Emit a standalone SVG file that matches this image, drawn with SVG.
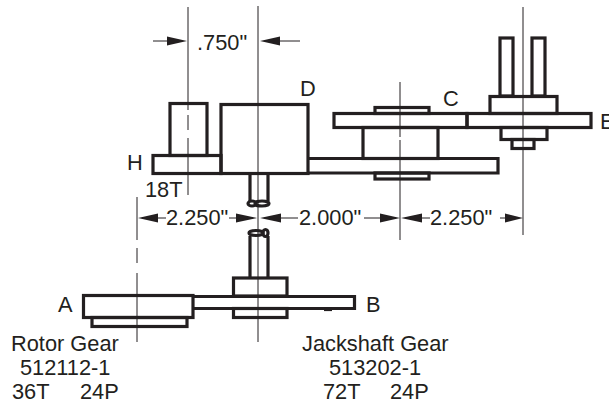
<svg xmlns="http://www.w3.org/2000/svg" width="609" height="405" viewBox="0 0 609 405">
<style>
.p{fill:none;stroke:#231f20;stroke-width:3.200}
.c{fill:none;stroke:#231f20;stroke-width:1}
.a{fill:#231f20;stroke:none}
text{font-family:"Liberation Sans",Arial,sans-serif;font-size:21.800px;fill:#231f20}
</style>
<rect width="609" height="405" fill="#fff"/>
<g id="centerlines">
<path class="c" d="M188 7V110M188 115V130M188 138V195"/>
<path class="c" d="M258 6V342"/>
<path class="c" d="M400 82V137M400 140V240"/>
<path class="c" d="M523 7V235"/>
<path class="c" d="M137 197V240M137 248V263M137 273V342"/>
</g>
<g id="upper-left">
<rect class="p" x="170" y="103.500" width="37" height="52"/>
<rect class="p" x="153" y="155.500" width="68" height="18"/>
<rect class="p" x="221" y="104.500" width="87" height="69"/>
<path class="p" d="M250 173V201M268 173V201"/>
<ellipse class="p" cx="252" cy="203.500" rx="4" ry="2.500"/>
<ellipse class="p" cx="262" cy="203.500" rx="7" ry="2.500"/>
</g>
<g id="middle">
<path class="p" d="M308 158.500H498V173H308"/>
<rect class="p" x="363" y="127.500" width="75" height="31"/>
<rect class="p" x="334" y="113.500" width="133" height="14"/>
<rect class="p" x="375" y="107.500" width="54" height="6"/>
<rect class="p" x="375" y="173" width="54" height="6"/>
</g>
<g id="right">
<rect class="p" x="467" y="113.500" width="124" height="14"/>
<rect class="p" x="500" y="38" width="13" height="58"/>
<rect class="p" x="532" y="38" width="13" height="58"/>
<rect class="p" x="490" y="96.500" width="67" height="17"/>
<rect class="p" x="501" y="127.500" width="46" height="12"/>
<rect class="p" x="512" y="139.500" width="22" height="9"/>
</g>
<g id="lower">
<rect class="p" x="83.500" y="295.500" width="109.500" height="22"/>
<rect class="p" x="92" y="317.500" width="95" height="9"/>
<path class="p" d="M193 296.500H354.500V308.500H193"/>
<rect class="p" x="233.500" y="278" width="53.500" height="18"/>
<rect class="p" x="233.500" y="308.500" width="53.500" height="9"/>
<path class="p" d="M250 278V236M268 278V236"/>
<ellipse class="p" cx="256" cy="233" rx="7" ry="2.500"/>
<ellipse class="p" cx="265.500" cy="233" rx="2.500" ry="3.500"/>
<path class="p" d="M324 309.500H332"/>
</g>
<g id="connectors">
<path class="c" d="M153 41H170M280 41H300M158 218H166M229 218H240M278 218H298M364 218H384M416 218H430M500 218H508"/>
<path class="a" d="M167 36.500L187 41L167 45.500ZM280 36.500L260 41L280 45.500Z"/>
<path class="a" d="M158 213.500L138 218L158 222.500ZM236 213.500L257 218L236 222.500ZM281 213.500L260 218L281 222.500ZM380 213.500L400 218L380 222.500ZM422 213.500L401 218L422 222.500ZM505 213.500L523 218L505 222.500Z"/>
</g>
<g id="labels">
<text x="197" y="50">.750"</text>
<text x="300" y="96">D</text>
<text x="443" y="106">C</text>
<text x="600" y="129">E</text>
<text x="127" y="170">H</text>
<text x="145" y="197">18T</text>
<text x="166" y="225">2.250"</text>
<text x="299" y="225">2.000"</text>
<text x="430" y="225">2.250"</text>
<text x="58" y="312">A</text>
<text x="366" y="312">B</text>
<text x="11" y="351">Rotor Gear</text>
<text x="20" y="375">512112-1</text>
<text x="12" y="399">36T</text>
<text x="80" y="399">24P</text>
<text x="302" y="351">Jackshaft Gear</text>
<text x="329" y="375">513202-1</text>
<text x="323" y="399">72T</text>
<text x="390" y="399">24P</text>
</g>
</svg>
